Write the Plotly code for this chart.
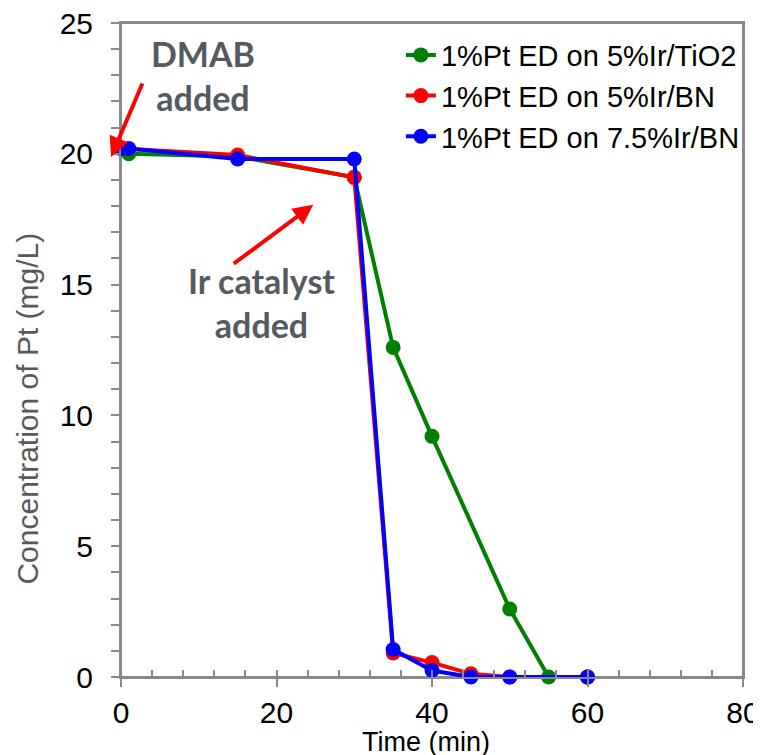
import plotly.graph_objects as go

# Data
series_names = ["1%Pt ED on 5%Ir/TiO2", "1%Pt ED on 5%Ir/BN", "1%Pt ED on 7.5%Ir/BN"]
colors = ["#008000", "#FF0000", "#0000FF"]

time_tio2 = [1, 15, 30, 35, 40, 50, 55, 60]
conc_tio2 = [20.0, 19.9, 19.1, 12.6, 9.2, 2.6, 0.0, 0.0]

time_bn5 = [0, 15, 30, 35, 40, 45, 50, 60]
conc_bn5 = [20.2, 19.95, 19.1, 0.92, 0.55, 0.12, 0.0, 0.0]

time_bn75 = [0, 1, 15, 30, 35, 40, 45, 50, 60]
conc_bn75 = [20.2, 20.2, 19.8, 19.8, 1.05, 0.25, 0.0, 0.0, 0.0]

x_ticks = [0, 20, 40, 60, 80]
y_ticks = [0, 5, 10, 15, 20, 25]

fig = go.Figure()
for name, col, xs, ys in zip(series_names, colors,
                             [time_tio2, time_bn5, time_bn75],
                             [conc_tio2, conc_bn5, conc_bn75]):
    fig.add_trace(go.Scatter(
        x=xs, y=ys, name=name, mode="lines+markers",
        line=dict(color=col, width=4),
        marker=dict(color=col, size=15),
        cliponaxis=False,
    ))

axis_color = "#898989"
note_font = dict(family="Lato, Open Sans, sans-serif", size=34, color="#555A60")
fig.update_layout(
    width=753, height=747,
    margin=dict(l=113, r=18, t=15, b=78),
    paper_bgcolor="white", plot_bgcolor="white",
    font=dict(family="Liberation Sans, Arial, sans-serif", color="black"),
    showlegend=True,
    legend=dict(
        x=0.45, y=0.99, xanchor="left", yanchor="top",
        font=dict(size=29, color="black"),
        bgcolor="rgba(0,0,0,0)",
        tracegroupgap=0,
    ),
    xaxis=dict(
        range=[0, 80], tickvals=x_ticks, automargin=False,
        showgrid=False, zeroline=False,
        showline=True, linecolor=axis_color, linewidth=2, mirror=True,
        ticks="outside", ticklen=8, tickcolor=axis_color, tickwidth=2,
        ticklabeloverflow="allow",
        tickfont=dict(size=30, color="black"),
        minor=dict(dtick=4, ticks="inside", ticklen=7, tickcolor=axis_color, tickwidth=2),
    ),
    yaxis=dict(
        range=[0, 25], tickvals=y_ticks, automargin=False,
        showgrid=False, zeroline=False,
        showline=True, linecolor=axis_color, linewidth=2, mirror=True,
        ticks="outside", ticklen=8, tickcolor=axis_color, tickwidth=2,
        ticklabelstandoff=12, ticklabeloverflow="allow",
        tickfont=dict(size=30, color="black"),
        minor=dict(dtick=1, ticks="outside", ticklen=8, tickcolor=axis_color, tickwidth=2),
    ),
    shapes=[
        dict(type="rect", xref="paper", yref="paper", x0=0, y0=0, x1=1, y1=1,
             line=dict(color=axis_color, width=2), layer="below"),
    ],
    annotations=[
        dict(text="Time (min)", xref="paper", yref="paper", x=0.49, y=-0.099,
             xanchor="center", yanchor="middle", showarrow=False,
             font=dict(size=27, color="black")),
        dict(text="Concentration of Pt (mg/L)", xref="paper", yref="paper",
             x=-0.15, y=0.41, textangle=-90, xanchor="center", yanchor="middle",
             showarrow=False, font=dict(size=30, color="#595959")),
        dict(text="<b>DMAB</b><br><b>added</b>", xref="paper", yref="paper",
             x=0.132, y=0.92, xanchor="center", yanchor="middle", showarrow=False,
             font=note_font),
        dict(text="<b>Ir catalyst</b><br><b>added</b>", xref="paper", yref="paper",
             x=0.226, y=0.572, xanchor="center", yanchor="middle", showarrow=False,
             font=note_font),
        dict(text="", x=-0.016, y=0.795, xref="paper", yref="paper", showarrow=True,
             ax=32, ay=-75, arrowcolor="#FF0000", arrowwidth=4, arrowhead=2,
             arrowsize=1),
        dict(text="", x=0.309, y=0.722, xref="paper", yref="paper", showarrow=True,
             ax=-81, ay=60, arrowcolor="#FF0000", arrowwidth=4, arrowhead=2,
             arrowsize=1),
    ],
)

fig.write_html("out.html")
